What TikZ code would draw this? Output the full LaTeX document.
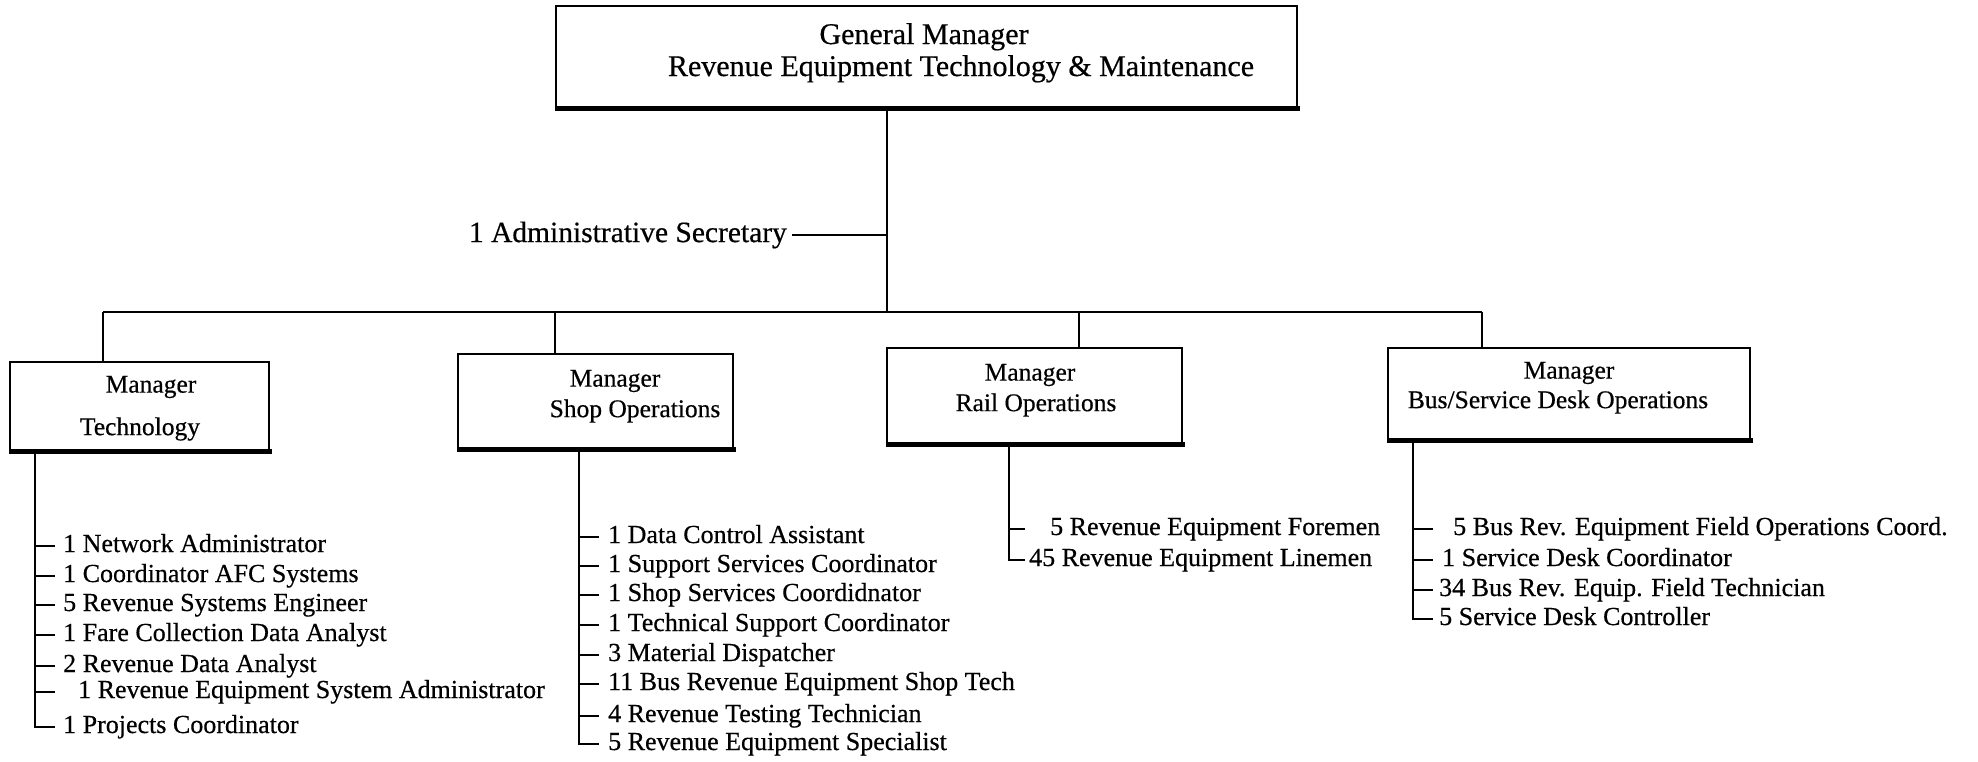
\documentclass[tikz,border=0pt]{standalone}
\usepackage{fontspec}
\setmainfont{Liberation Serif}[UprightFeatures={FakeBold=0.5}]
\usetikzlibrary{calc}
\begin{document}
\begin{tikzpicture}[x=1pt,y=-1pt,
  orgbox/.style={draw, line width=1.8pt, inner sep=0pt},
  conn/.style={line width=1.8pt},
  gmtext/.style={font=\fontsize{30}{34}\selectfont, inner sep=0pt, anchor=base},
  mgrtext/.style={font=\fontsize{25.5}{30}\selectfont, inner sep=0pt},
  item/.style={font=\fontsize{26}{30}\selectfont, inner sep=0pt, anchor=base west}]
\useasboundingbox (0,0) rectangle (1978,761);
\fill[white] (0,0) rectangle (1978,761);

% General manager
\node[orgbox, minimum width=741pt, minimum height=101pt] (gm) at (926.5,56.5) {};
\fill ($(gm.south west)+(0,-2)$) rectangle ($(gm.south east)+(2,3)$);
\node[gmtext] (gm1) at (924,44) {General Manager};
\node[gmtext] (gm2) at (961,76) {Revenue Equipment Technology \& Maintenance};

% manager boxes
\node[orgbox, minimum width=259pt, minimum height=88pt] (tech) at (139.5,406) {};
\fill ($(tech.south west)+(0,-2)$) rectangle ($(tech.south east)+(2,3)$);
\node[mgrtext] (tech1) at (151,387) {Manager};
\node[mgrtext] (tech2) at (140,429) {Technology};

\node[orgbox, minimum width=275pt, minimum height=94pt] (shop) at (595.5,401) {};
\fill ($(shop.south west)+(0,-2)$) rectangle ($(shop.south east)+(2,3)$);
\node[mgrtext] (shop1) at (615,381) {Manager};
\node[mgrtext] (shop2) at (635,411) {Shop Operations};

\node[orgbox, minimum width=295pt, minimum height=95pt] (rail) at (1034.5,395.5) {};
\fill ($(rail.south west)+(0,-2)$) rectangle ($(rail.south east)+(2,3)$);
\node[mgrtext] (rail1) at (1030,375) {Manager};
\node[mgrtext] (rail2) at (1036,405) {Rail Operations};

\node[orgbox, minimum width=362pt, minimum height=91pt] (busd) at (1569,393.5) {};
\fill ($(busd.south west)+(0,-2)$) rectangle ($(busd.south east)+(2,3)$);
\node[mgrtext] (busd1) at (1569,373) {Manager};
\node[mgrtext] (busd2) at (1558,402) {Bus/Service Desk Operations};

% trunk and bus
\coordinate (bus) at (887,312);
\coordinate (bT) at (103,312);
\coordinate (bS) at (555,312);
\coordinate (bR) at (1079,312);
\coordinate (bB) at (1482,312);
\draw[conn] (gm.south -| bus) -- (bus);
\draw[conn] (bT) -- (bB);
\draw[conn] (bT) -- (bT |- tech.north);
\draw[conn] (bS) -- (bS |- shop.north);
\draw[conn] (bR) -- (bR |- rail.north);
\draw[conn] (bB) -- (bB |- busd.north);

\node[font=\fontsize{29.5}{34}\selectfont, inner sep=0pt, anchor=east] (adm) at (787,235) {1 Administrative Secretary};
\draw[conn] ([xshift=5pt]adm.east) -- (adm.east -| bus);

% list verticals
\coordinate (vT) at (35,450);
\coordinate (vS) at (579,448);
\coordinate (vR) at (1009,443);
\coordinate (vB) at (1413,439);

\foreach \n/\x/\y/\t in {
  t1/63/552/{1 Network Administrator},
  t2/63/582/{1 Coordinator AFC Systems},
  t3/63/611/{5 Revenue Systems Engineer},
  t4/63/641/{1 Fare Collection Data Analyst},
  t5/63/672/{2 Revenue Data Analyst},
  t6/78/698/{1 Revenue Equipment System Administrator},
  t7/63/733/{1 Projects Coordinator}} {
  \node[item] (\n) at (\x,\y) {\t};
  \coordinate (\n-k) at ([yshift=6pt]\n.base west);
}
\foreach \n in {t1,t2,t3,t4,t5,t6} \draw[conn] (vT |- \n-k) -- ++(20,0);
\draw[conn] (tech.south -| vT) -- (vT |- t7-k) -- ++(20,0);

\foreach \n/\x/\y/\t in {
  s1/608/543/{1 Data Control Assistant},
  s2/608/572/{1 Support Services Coordinator},
  s3/608/601/{1 Shop Services Coordidnator},
  s4/608/631/{1 Technical Support Coordinator},
  s5/608/661/{3 Material Dispatcher},
  s6/608/690/{11 Bus Revenue Equipment Shop Tech},
  s7/608/722/{4 Revenue Testing Technician},
  s8/608/750/{5 Revenue Equipment Specialist}} {
  \node[item] (\n) at (\x,\y) {\t};
  \coordinate (\n-k) at ([yshift=6pt]\n.base west);
}
\foreach \n in {s1,s2,s3,s4,s5,s6,s7} \draw[conn] (vS |- \n-k) -- ++(20,0);
\draw[conn] (shop.south -| vS) -- (vS |- s8-k) -- ++(20,0);

\foreach \n/\x/\y/\t in {
  r1/1050/535/{5 Revenue Equipment Foremen},
  r2/1029/566/{45 Revenue Equipment Linemen}} {
  \node[item] (\n) at (\x,\y) {\t};
  \coordinate (\n-k) at ([yshift=6pt]\n.base west);
}
\draw[conn] (vR |- r1-k) -- ++(16,0);
\draw[conn] (rail.south -| vR) -- (vR |- r2-k) -- ++(16,0);

\foreach \n/\x/\y/\t in {
  b1/1453/535/{5 Bus Rev. Equipment Field Operations Coord.},
  b2/1442/566/{1 Service Desk Coordinator},
  b3/1439/596/{34 Bus Rev. Equip. Field Technician},
  b4/1439/625/{5 Service Desk Controller}} {
  \node[item] (\n) at (\x,\y) {\t};
  \coordinate (\n-k) at ([yshift=6pt]\n.base west);
}
\foreach \n in {b1,b2,b3} \draw[conn] (vB |- \n-k) -- ++(20,0);
\draw[conn] (busd.south -| vB) -- (vB |- b4-k) -- ++(20,0);
\end{tikzpicture}
\end{document}
